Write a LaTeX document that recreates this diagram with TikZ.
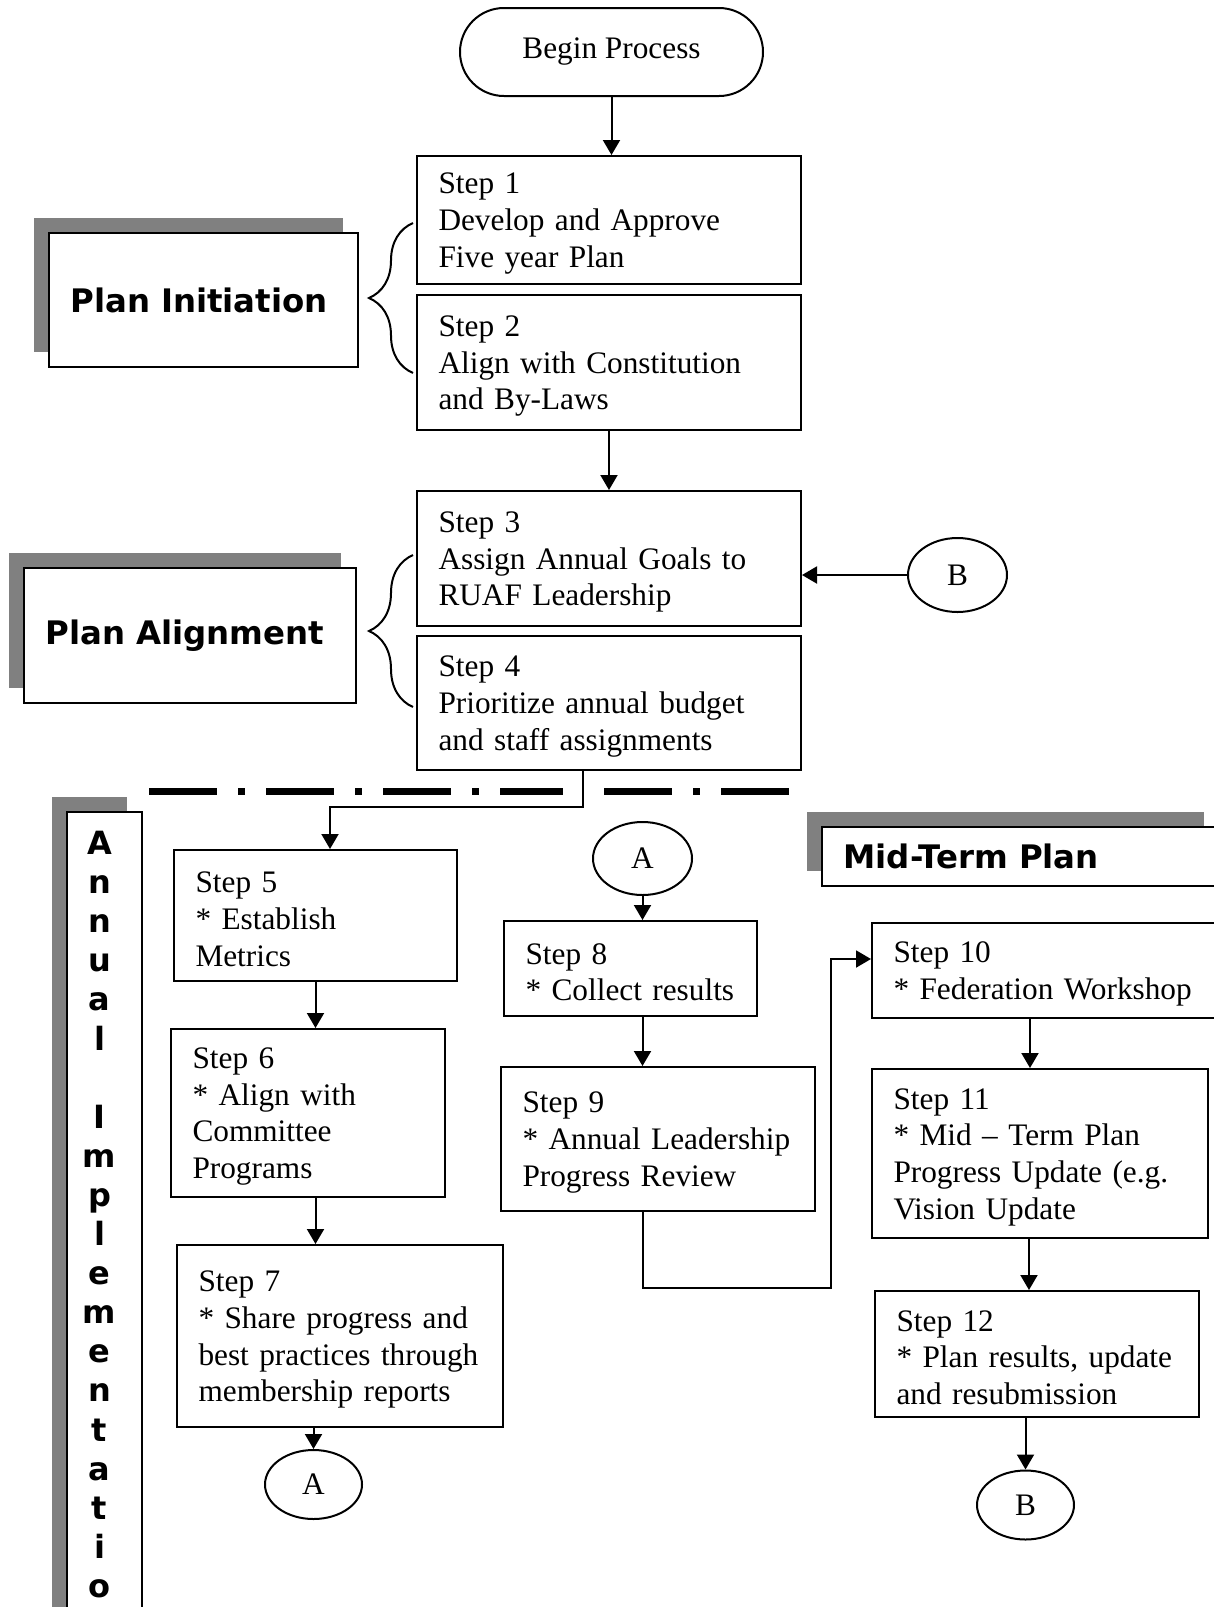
\documentclass[tikz,border=0pt]{standalone}
\usepackage{fontspec}
\setmainfont{Liberation Serif}
\newfontfamily\phasefont{DejaVu Sans}
\usetikzlibrary{arrows.meta, positioning, shapes.geometric, shadows,
                decorations.pathreplacing}

\begin{document}
\begin{tikzpicture}[
  x=1pt, y=-1pt,
  every node/.style={font=\fontsize{31.3}{36.7}\selectfont},
  startbox/.style={rectangle, rounded corners=44pt, draw=black,
                   line width=2pt, minimum width=303pt, minimum height=88pt},
  stepbox/.style={rectangle, draw=black, line width=2pt, fill=white,
                  align=left, inner xsep=21.5pt, inner ysep=0pt,
                  execute at begin node={\rule{0pt}{28pt}}},
  phasebox/.style={rectangle, draw=black, line width=2pt, fill=white,
                   general shadow={fill=black!50, shadow xshift=-15pt,
                                   shadow yshift=15pt},
                   font=\phasefont\bfseries\fontsize{32.4}{38}\selectfont,
                   align=left, inner xsep=21.5pt},
  conn/.style={ellipse, draw=black, line width=2pt, inner sep=0pt},
  brace/.style={decorate, decoration={brace, amplitude=44pt},
                line width=2pt},
  divider/.style={line width=7pt,
                  dash pattern=on 68pt off 21pt on 7pt off 21pt},
  arr/.style={-{Triangle[length=15pt, width=17pt]}, line width=2pt}
]
  \useasboundingbox (0,0) rectangle (1214,1607);
  \clip (0,0) rectangle (1214,1607);

  % Top tier
  \node[startbox] (begin) at (611.5,52) {Begin Process};
  \node[stepbox, text width=341pt, minimum height=128pt] (s1) at (609,220)
    {Step 1\\Develop and Approve\\Five year Plan};
  \node[stepbox, text width=341pt, minimum height=135pt] (s2) at (609,362.5)
    {Step 2\\Align with Constitution\\and By-Laws};
  \node[stepbox, text width=341pt, minimum height=135pt] (s3) at (609,558.5)
    {Step 3\\Assign Annual Goals to\\RUAF Leadership};
  \node[stepbox, text width=341pt, minimum height=134pt] (s4) at (609,703)
    {Step 4\\Prioritize annual budget\\and staff assignments};
  \node[conn, minimum width=99pt, minimum height=74pt] (bright) at (957.5,575) {B};

  % Phase labels
  \node[phasebox, text width=266pt, minimum height=134pt] (initiation)
    at (203.5,300) {Plan Initiation};
  \node[phasebox, text width=289pt, minimum height=135pt] (alignment)
    at (190,635.5) {Plan Alignment};
  \draw[brace] (413,373) -- (413,223);
  \draw[brace] (413,707) -- (413,555);

  % Divider
  \draw[divider] (149,791) -- (563,791);
  \draw[divider] (604,791) -- (789,791);

  % Annual implementation column
  \node[phasebox, minimum width=75pt, minimum height=830pt, anchor=north,
        general shadow={shadow yshift=16pt}] (annual) at (104.5,811) {};
  \node[font=\phasefont\bfseries\fontsize{32}{39.1}\selectfont, align=center,
        inner sep=0pt, anchor=north] (annualtxt) at (99.5,831)
    {A\\n\\n\\u\\a\\l\\~\\I\\m\\p\\l\\e\\m\\e\\n\\t\\a\\t\\i\\o};
  \node[stepbox, text width=240pt, minimum height=131pt] (s5) at (315.5,915.5)
    {Step 5\\{}* Establish\\Metrics};
  \node[stepbox, text width=231pt, minimum height=168pt] (s6) at (308,1113)
    {Step 6\\{}* Align with\\Committee\\Programs};
  \node[stepbox, text width=283pt, minimum height=182pt] (s7) at (340,1336)
    {Step 7\\{}* Share progress and\\best practices through\\membership reports};
  \node[conn, minimum width=97pt, minimum height=69pt] (abot) at (313.5,1484.5) {A};

  % Middle column
  \node[conn, minimum width=99pt, minimum height=73pt] (atop) at (642.5,858.5) {A};
  \node[stepbox, text width=210pt, minimum height=95pt] (s8) at (630.5,968.5)
    {Step 8\\{}* Collect results};
  \node[stepbox, text width=271pt, minimum height=144pt] (s9) at (658,1139)
    {Step 9\\{}* Annual Leadership\\Progress Review};

  % Mid-term column
  \node[phasebox, minimum width=397pt, minimum height=59pt, text width=354pt,
        inner ysep=0pt] (midterm) at (1020.5,856) {Mid-Term Plan};
  \node[stepbox, text width=317pt, minimum height=95pt] (s10) at (1052,970.5)
    {Step 10\\{}* Federation Workshop};
  \node[stepbox, text width=293pt, minimum height=169pt] (s11) at (1040,1153.5)
    {Step 11\\{}* Mid -- Term Plan\\Progress Update (e.g.\\Vision Update};
  \node[stepbox, text width=281pt, minimum height=126pt] (s12) at (1037,1354)
    {Step 12\\{}* Plan results, update\\and resubmission};
  \node[conn, minimum width=97pt, minimum height=69pt] (bbot) at (1025.5,1505) {B};

  % Arrows
  \draw[arr] (begin.south) -- (begin.south |- s1.north);
  \draw[arr] (s2) -- (s3);
  \draw[arr] (bright) -- (bright -| s3.east);
  \draw[arr] ([xshift=-26pt]s4.south) -- ++(0,36) -| ([xshift=14.5pt]s5.north);
  \draw[arr] (s5.south) -- (s5.south |- s6.north);
  \draw[arr] (s5.south |- s6.south) -- (s5.south |- s7.north);
  \draw[arr] (abot.north |- s7.south) -- (abot);
  \draw[arr] (atop) -- (atop |- s8.north);
  \draw[arr] (atop |- s8.south) -- (atop |- s9.north);
  \draw[arr] ([xshift=-15pt]s9.south) -- ++(0,76) -- ++(188,0)
    |- ([yshift=11.5pt]s10.west);
  \draw[arr] ([xshift=-10pt]s11.north |- s10.south) -- ([xshift=-10pt]s11.north);
  \draw[arr] ([xshift=-8pt]s12.north |- s11.south) -- ([xshift=-8pt]s12.north);
  \draw[arr] (bbot.north |- s12.south) -- (bbot);
\end{tikzpicture}
\end{document}
